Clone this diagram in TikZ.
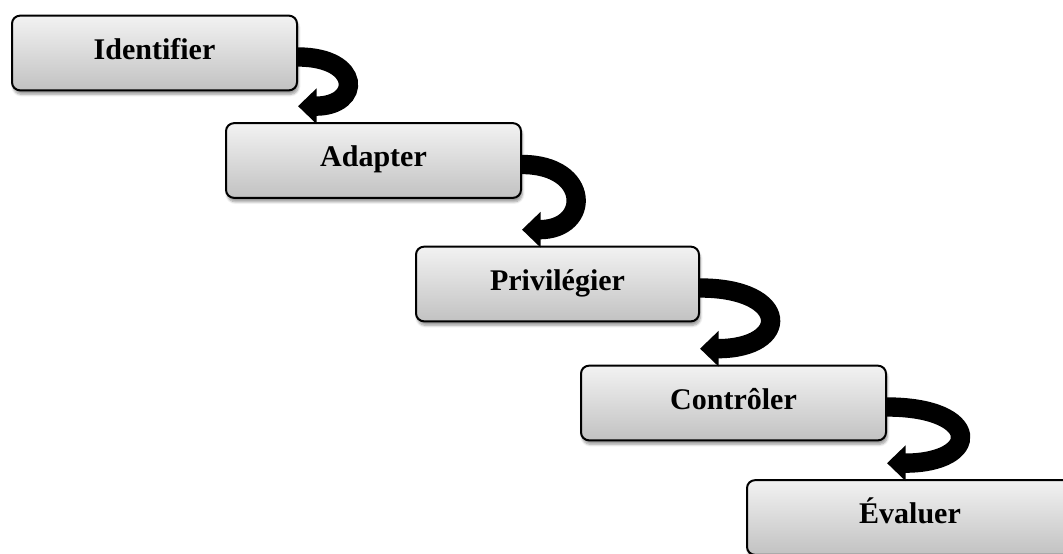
\documentclass[tikz,border=0pt]{standalone}
\usepackage{fontspec}
\setmainfont{Liberation Serif}
\usepackage{tikz}
\usetikzlibrary{arrows.meta,shadows.blur}

\tikzset{
  stepbox/.style={draw=black, line width=1.5pt, rounded corners=6pt,
    top color=black!5, bottom color=black!24,
    blur shadow={shadow xshift=1pt, shadow yshift=-3pt, shadow opacity=40, shadow blur steps=6},
    minimum height=56pt, text height=15pt, text depth=6pt,
    font=\fontsize{22.5pt}{26pt}\selectfont\bfseries},
  curlarrow/.style={line width=14.5pt, black,
    -{Triangle[width=26pt,length=14pt]}}
}

\begin{document}
\begin{tikzpicture}[x=0.75pt,y=-0.75pt]
\useasboundingbox (0,0) rectangle (1063,553);

\node[stepbox, minimum width=213.75pt] (identifier)  at (154.5,53)  {Identifier};
\node[stepbox, minimum width=221.25pt] (adapter)     at (373.5,160.5) {Adapter};
\node[stepbox, minimum width=212.25pt] (privilegier) at (557.5,284) {Privilégier};
\node[stepbox, minimum width=228.75pt] (controler)   at (733.5,403) {Contrôler};
\node[stepbox, minimum width=244.5pt]  (evaluer)     at (910,517.5) {Évaluer};

% curled arrows from one step down to the next
\draw[curlarrow] ([yshift=-3pt]identifier.east) .. controls +(64,0) and +(64,0) .. ([yshift=12pt]identifier.east |- adapter.north);
\draw[curlarrow] ([yshift=-3pt]adapter.east) .. controls +(69,0) and +(69,0) .. ([yshift=12pt]adapter.east |- privilegier.north);
\draw[curlarrow] ([yshift=-3pt]privilegier.east) .. controls +(91,0) and +(91,0) .. ([yshift=12pt]privilegier.east |- controler.north);
\draw[curlarrow] ([yshift=-3pt]controler.east) .. controls +(95,0) and +(95,0) .. ([yshift=12pt]controler.east |- evaluer.north);
\end{tikzpicture}
\end{document}
